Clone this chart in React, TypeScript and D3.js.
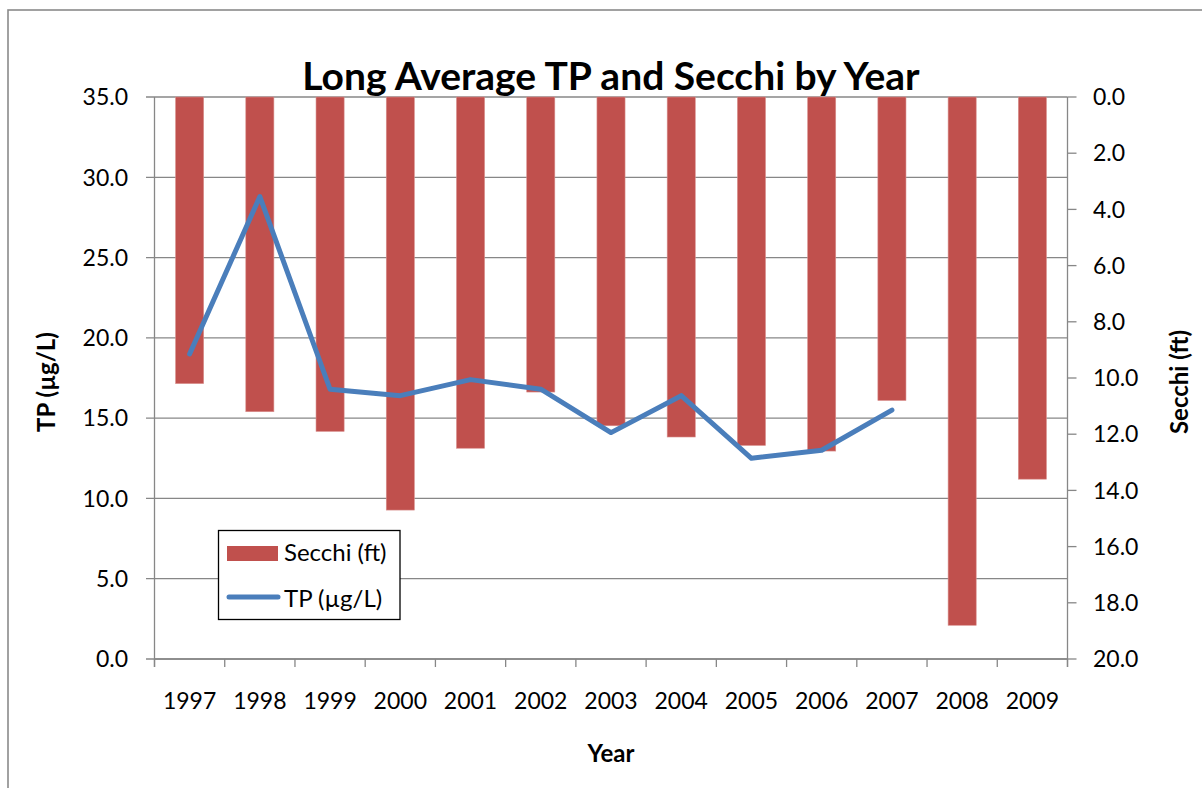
import React from "react";
import * as d3 from "d3";

const years = ["1997","1998","1999","2000","2001","2002","2003","2004","2005","2006","2007","2008","2009"];
const secchi = [10.2, 11.2, 11.9, 14.7, 12.5, 10.5, 11.7, 12.1, 12.4, 12.6, 10.8, 18.8, 13.6];
const tp: (number | null)[] = [19.0, 28.8, 16.8, 16.4, 17.4, 16.8, 14.1, 16.4, 12.5, 13.0, 15.5, null, null];
const leftTicks = [0, 5, 10, 15, 20, 25, 30, 35];
const rightTicks = [0, 2, 4, 6, 8, 10, 12, 14, 16, 18, 20];

const W = 1202, H = 788;
const L = 154.5, R = 1067.5, T = 97, B = 659;
const FONT = "Lato, 'Open Sans', sans-serif";
const GRID = "#878787";
const BAR = "#C0504D";
const LINE = "#4A7EBB";

export default function App() {
  const x = d3.scaleBand<string>().domain(years).range([L, R]).paddingInner(0.6).paddingOuter(0.3);
  const step = x.step();
  const yL = d3.scaleLinear().domain([0, 35]).range([B, T]);
  const yR = d3.scaleLinear().domain([0, 20]).range([T, B]);
  const fmt = d3.format(".1f");

  const pts = years.map((yr, i) => ({ yr, v: tp[i] })).filter(d => d.v !== null) as { yr: string; v: number }[];
  const line = d3.line<{ yr: string; v: number }>()
    .x(d => (x(d.yr) as number) + x.bandwidth() / 2)
    .y(d => yL(d.v));

  const boundaries = d3.range(years.length + 1).map(i => L + i * step);

  return (
    <svg width={W} height={H} style={{ position: "absolute", left: 0, top: 0, display: "block", background: "#fff" }}
      fontFamily={FONT}>
      <rect x={0} y={0} width={W} height={H} fill="#fff" />
      {/* outer chart border */}
      <rect x={8} y={10} width={1400} height={1000} fill="none" stroke="#8a8a8a" strokeWidth={1.6} />

      {/* title */}
      <text x={611} y={90} textAnchor="middle" fontSize={39} fontWeight={700} fill="#000">
        Long Average TP and Secchi by Year
      </text>

      {/* gridlines + left ticks */}
      {leftTicks.map(t => (
        <g key={"l" + t}>
          <line x1={146} x2={R} y1={yL(t)} y2={yL(t)} stroke={GRID} strokeWidth={1.3} />
          <text x={128} y={yL(t)} dy="0.36em" textAnchor="end" fontSize={23} fill="#000">{fmt(t)}</text>
        </g>
      ))}

      {/* bars */}
      {years.map((yr, i) => (
        <rect key={yr} x={x(yr)} y={yR(0)} width={x.bandwidth()} height={yR(secchi[i]) - yR(0)}
          fill={BAR} stroke="#d9908e" strokeWidth={0.6} />
      ))}

      {/* axes */}
      <line x1={L} x2={L} y1={T} y2={B + 8} stroke={GRID} strokeWidth={1.3} />
      <line x1={R} x2={R} y1={T} y2={B + 8} stroke={GRID} strokeWidth={1.3} />
      <line x1={L} x2={R} y1={B} y2={B} stroke={GRID} strokeWidth={1.3} />
      {boundaries.map((bx, i) => (
        <line key={"b" + i} x1={bx} x2={bx} y1={B} y2={B + 8} stroke={GRID} strokeWidth={1.3} />
      ))}
      {rightTicks.map(t => (
        <g key={"r" + t}>
          <line x1={R} x2={R + 9} y1={yR(t)} y2={yR(t)} stroke={GRID} strokeWidth={1.3} />
          <text x={1093} y={yR(t)} dy="0.36em" textAnchor="start" fontSize={23} fill="#000">{fmt(t)}</text>
        </g>
      ))}

      {/* year labels */}
      {years.map(yr => (
        <text key={"t" + yr} x={(x(yr) as number) + x.bandwidth() / 2} y={709} textAnchor="middle" fontSize={23} fill="#000">{yr}</text>
      ))}

      {/* TP line */}
      <path d={line(pts) || ""} fill="none" stroke={LINE} strokeWidth={5} strokeLinejoin="round" strokeLinecap="round" />

      {/* axis titles */}
      <text x={611} y={762} textAnchor="middle" fontSize={24} fontWeight={700} fill="#000">Year</text>
      <text transform={`translate(55,382) rotate(-90)`} textAnchor="middle" fontSize={24} fontWeight={700} fill="#000">TP (µg/L)</text>
      <text transform={`translate(1188,382) rotate(-90)`} textAnchor="middle" fontSize={24} fontWeight={700} fill="#000">Secchi (ft)</text>

      {/* legend */}
      <rect x={218.5} y={530.5} width={181.5} height={89} fill="#fff" stroke="#000" strokeWidth={1.3} />
      <rect x={227} y={546} width={51} height={15} fill={BAR} />
      <text x={284} y={561} fontSize={24} fill="#000">Secchi (ft)</text>
      <line x1={229} x2={278} y1={597} y2={597} stroke={LINE} strokeWidth={5} strokeLinecap="round" />
      <text x={284} y={607} fontSize={24} fill="#000">TP (µg/L)</text>
    </svg>
  );
}
